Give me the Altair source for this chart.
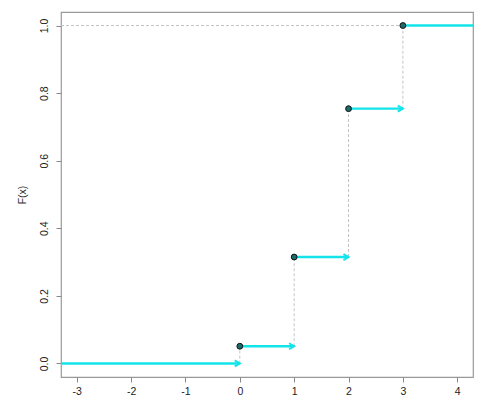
import altair as alt
import pandas as pd

# ---- data ----
x_min, x_max = -3.29, 4.29
y_min, y_max = -0.04, 1.04
jump_x = [0, 1, 2, 3]
cdf = [0.051, 0.315, 0.754, 1.0]
x_ticks = [-3, -2, -1, 0, 1, 2, 3, 4]
y_ticks = [0.0, 0.2, 0.4, 0.6, 0.8, 1.0]

seg = pd.DataFrame({"x": [x_min] + jump_x, "x2": jump_x + [x_max], "y": [0.0] + cdf})
arrows = seg.iloc[:-1].copy()
pts = pd.DataFrame({"x": jump_x, "y": cdf})
vert = pd.DataFrame({"x": jump_x, "y": [0.0] + cdf[:-1], "y2": cdf})
topline = pd.DataFrame({"x": [x_min], "x2": [jump_x[-1]], "y": [cdf[-1]]})

CYAN = "#12e4ea"
FONT = "Liberation Sans"

xs = alt.Scale(domain=[x_min, x_max], nice=False, zero=False)
ys = alt.Scale(domain=[y_min, y_max], nice=False, zero=False)

xaxis = alt.Axis(values=x_ticks, labelExpr="'' + datum.value", domain=False, grid=False,
                 tickSize=5, tickColor="#888", labelColor="#222", labelFont=FONT,
                 labelFontSize=10.5, labelPadding=4)
yaxis = alt.Axis(values=y_ticks, format=".1f", domain=False, grid=False, tickSize=5,
                 tickColor="#888", labelColor="#222", labelFont=FONT, labelFontSize=10.5,
                 labelAngle=270, labelAlign="center", labelBaseline="bottom",
                 labelPadding=7, titleFont=FONT, titleFontSize=10.5, titleColor="#333",
                 titleFontWeight="normal", titlePadding=12)

X = lambda: alt.X("x:Q", scale=xs, axis=xaxis, title=None)
Y = lambda: alt.Y("y:Q", scale=ys, axis=yaxis, title="F(x)")

dashed_v = alt.Chart(vert).mark_rule(color="#c4c4c4", strokeDash=[3, 2], strokeWidth=1).encode(
    x=X(), y=Y(), y2="y2:Q")
dashed_h = alt.Chart(topline).mark_rule(color="#c4c4c4", strokeDash=[3, 2], strokeWidth=1).encode(
    x=X(), x2="x2:Q", y=Y())
steps = alt.Chart(seg).mark_rule(color=CYAN, strokeWidth=2.3, clip=True).encode(
    x=X(), x2="x2:Q", y=Y())
heads = alt.Chart(arrows).mark_point(shape="M -1.7 -1 L 0 0 L -1.7 1", filled=False,
                                     color=CYAN, strokeWidth=2, size=36, opacity=1).encode(
    x=alt.X("x2:Q", scale=xs, axis=xaxis, title=None), y=Y())
dots = alt.Chart(pts).mark_point(filled=True, fill="#1d6b6b", stroke="#111", strokeWidth=1,
                                 size=34, opacity=1).encode(x=X(), y=Y())

chart = alt.layer(dashed_v, dashed_h, steps, heads, dots).properties(
    width=412, height=365,
    autosize=alt.AutoSizeParams(type="none"),
    padding={"left": 53, "top": 4, "right": 5, "bottom": 20},
    background="white",
).configure_view(stroke="#999", strokeWidth=1.2)

chart.save("out.html", embed_options={"renderer": "svg", "actions": False})
